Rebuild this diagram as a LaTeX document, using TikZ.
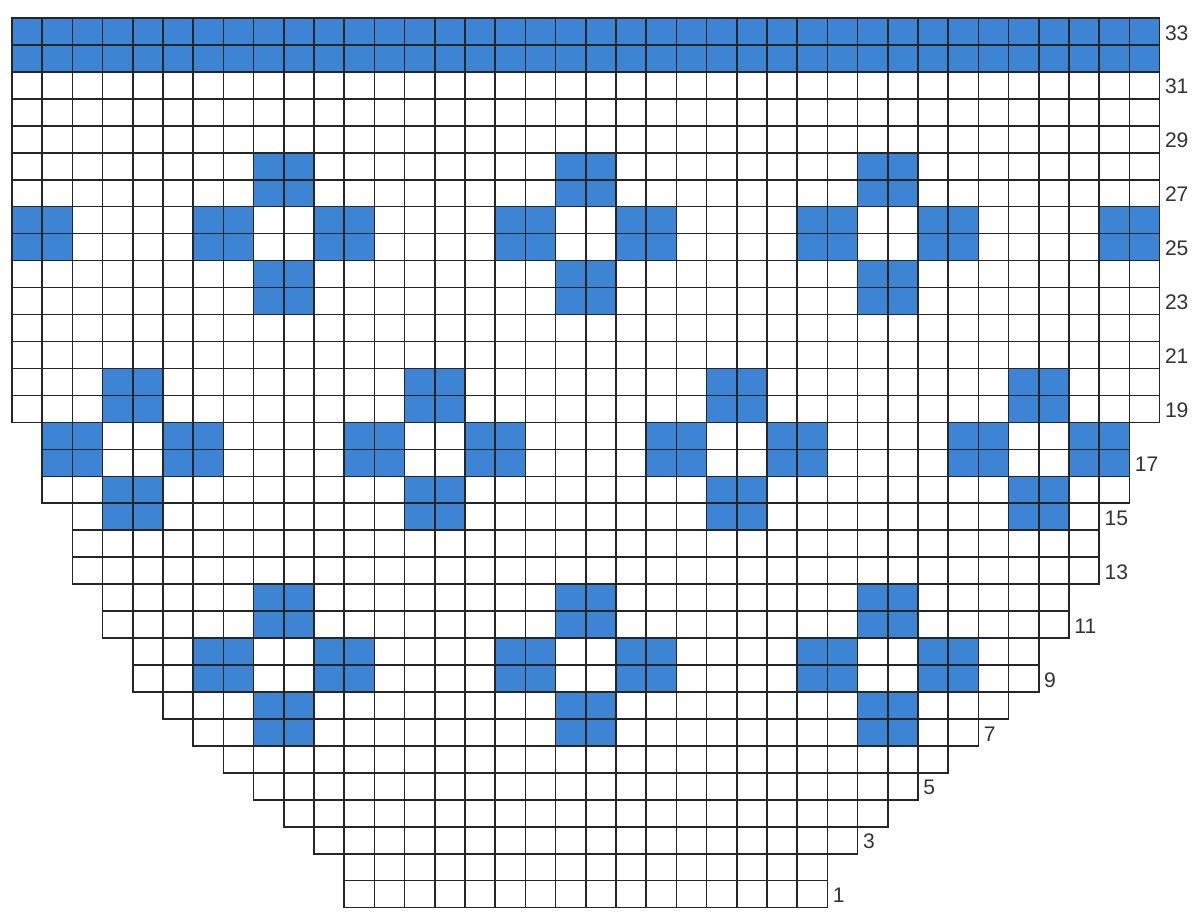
\documentclass[tikz,border=0pt]{standalone}
\usepackage{fontspec}
\setsansfont{Liberation Sans}
\definecolor{chartblue}{RGB}{62,132,212}
\begin{document}
\begin{tikzpicture}[
    x=0.755cm, y=0.674cm,
    gridline/.style={draw=black!85, line width=1.1pt, line cap=rect, step=1},
    motif/.style={fill=chartblue},
    rowlabel/.style={anchor=west, inner sep=0pt, text=black!80, font=\sffamily\fontsize{15}{18}\selectfont}
]
    \useasboundingbox[fill=white] (-0.397,-0.148) rectangle (39.305,33.667);
    % blue band and flowers
    \begin{scope}
        \clip (0,0) rectangle (38,33);
        \fill[motif] (0,31) rectangle (38,33);
        \foreach \c/\r in {-2/23,8/23,18/23,28/23,38/23,3/15,13/15,23/15,33/15,8/7,18/7,28/7} {
            \fill[motif] (\c,\r-1) rectangle ++(2,2);
            \fill[motif] (\c-2,\r+1) rectangle ++(2,2);
            \fill[motif] (\c+2,\r+1) rectangle ++(2,2);
            \fill[motif] (\c,\r+3) rectangle ++(2,2);
        }
    \end{scope}
    % rows of the chart
    \foreach \r/\l in {1/11,2/11,3/10,4/9,5/8,6/7,7/6,8/5,9/4,10/4,11/3,12/3,13/2,14/2,15/2,16/1,17/1,18/1}
        \draw[gridline] (\l,\r-1) grid (38-\l,\r);
    \foreach \r in {19,...,33}
        \draw[gridline] (0,\r-1) grid (38,\r);
    % row numbers
    \foreach \r/\l in {1/11,3/10,5/8,7/6,9/4,11/3,13/2,15/2,17/1}
        \node[rowlabel] (lab\r) at (38.17-\l,\r-0.55) {\r};
    \foreach \r in {19,21,...,33}
        \node[rowlabel] (lab\r) at (38.17,\r-0.55) {\r};
\end{tikzpicture}
\end{document}
